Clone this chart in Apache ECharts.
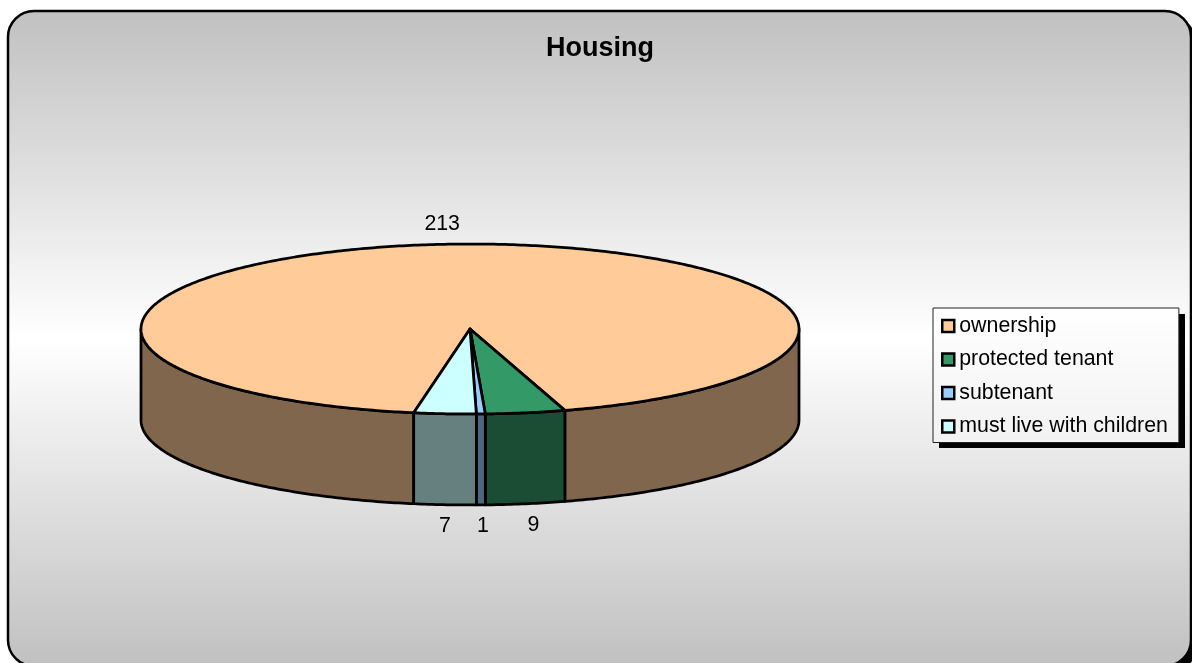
<!DOCTYPE html>
<html><head><meta charset="utf-8">
<style>html,body{margin:0;padding:0;background:#fff}#c{width:1192px;height:663px}</style>
<script src="https://cdn.jsdelivr.net/npm/echarts@6/dist/echarts.min.js"></script>
</head><body><div id="c"></div>
<script>
const categories = ['ownership', 'protected tenant', 'subtenant', 'must live with children'];
const values = [213, 9, 1, 7];
const topColors = ['#FFCC99', '#339966', '#99CCFF', '#CCFFFF'];
const sideColors = ['#80664D', '#1A4D33', '#4D6680', '#668080'];

const FONT = '"Liberation Sans", Arial, sans-serif';
const firstAngle = 9.85;           // degrees clockwise from the front of the pie
const depth = 91 / 85;             // wall height in axis units
const labelNudge = [-8, 8, 2, 0];
const total = values.reduce((a, b) => a + b, 0);

function pt(api, deg, drop) {
  const r = deg * Math.PI / 180;
  return api.coord([-Math.sin(r), -Math.cos(r) - (drop || 0)]);
}
function arc(api, a0, a1, drop) {
  const n = Math.max(2, Math.ceil(Math.abs(a1 - a0) * 1.5));
  const out = [];
  for (let i = 0; i <= n; i++) out.push(pt(api, a0 + (a1 - a0) * i / n, drop));
  return out;
}
const poly = (points, fill) => ({
  type: 'polygon', shape: { points },
  style: { fill, stroke: '#000', lineWidth: 2.75, lineJoin: 'round' }
});
function frontRanges(a0, a1) {
  const out = [];
  for (const [f0, f1] of [[-90, 90], [270, 450], [630, 810]]) {
    const s = Math.max(a0, f0), e = Math.min(a1, f1);
    if (e > s) out.push([s, e]);
  }
  return out;
}
function makeRender(idx) {
  return function (params, api) {
    const before = values.slice(0, idx).reduce((a, b) => a + b, 0);
    const a0 = firstAngle + before / total * 360;
    const a1 = a0 + api.value(2) / total * 360;
    const children = [];
    frontRanges(a0, a1).forEach(([s, e]) => {
      children.push(poly(arc(api, s, e, 0).concat(arc(api, e, s, depth)), sideColors[idx]));
    });
    const apex = api.coord([0, 0]);
    children.push(poly([apex].concat(arc(api, a0, a1, 0)), topColors[idx]));
    const mid = (a0 + a1) / 2, rad = mid * Math.PI / 180;
    const front = Math.cos(rad) > 0;
    const p = pt(api, mid, front ? depth : 0);
    children.push({
      type: 'text', z2: 10,
      style: {
        text: String(api.value(2)), x: p[0] + labelNudge[idx], y: p[1] + (front ? 21 : -20),
        textAlign: 'center', textVerticalAlign: 'middle', font: '21.33px ' + FONT, fill: '#000'
      }
    });
    return { type: 'group', children };
  };
}
const chart = echarts.init(document.getElementById('c'), null, { renderer: 'canvas' });
chart.setOption({
  animation: false,
  backgroundColor: '#fff',
  title: {
    text: 'Housing', left: 541, top: 30,
    textStyle: { fontFamily: FONT, fontSize: 27, fontWeight: 'bold', color: '#000' }
  },
  graphic: [{
    type: 'rect', z: -11, silent: true,
    shape: { x: 14, y: 17, width: 1183, height: 655, r: 26 },
    style: { fill: '#000' }
  }, {
    type: 'rect', z: -10, silent: true,
    shape: { x: 8, y: 11, width: 1183, height: 655, r: 26 },
    style: {
      stroke: '#000', lineWidth: 2.5,
      fill: new echarts.graphic.LinearGradient(0, 0, 0, 1, [
        { offset: 0, color: '#C0C0C0' }, { offset: 0.5, color: '#FFFFFF' }, { offset: 1, color: '#C0C0C0' }
      ])
    }
  }, {
    type: 'rect', z: -5, silent: true,
    shape: { x: 939, y: 314, width: 246, height: 134 },
    style: { fill: '#000' }
  }],
  legend: {
    orient: 'vertical', left: 933, top: 308, padding: [6, 11, 4, 8],
    itemWidth: 12, itemHeight: 12, itemGap: 9.5, icon: 'rect',
    backgroundColor: new echarts.graphic.LinearGradient(0, 0, 0, 1, [
      { offset: 0, color: '#FFFFFF' }, { offset: 1, color: '#F2F2F2' }
    ]),
    borderColor: '#222', borderWidth: 1, borderRadius: 0,
    itemStyle: { borderColor: '#000', borderWidth: 2.5 },
    textStyle: { fontFamily: FONT, fontSize: 21.33, color: '#000', lineHeight: 24 },
    data: categories, selectedMode: false
  },
  grid: { left: 141, right: 393, top: 244, bottom: 249 },
  xAxis: { type: 'value', min: -1, max: 1, show: false },
  yAxis: { type: 'value', min: -1, max: 1, show: false },
  series: categories.map((name, i) => ({
    type: 'custom', name, coordinateSystem: 'cartesian2d', z: 2 + i,
    clip: false, silent: true,
    itemStyle: { color: topColors[i] },
    encode: { x: 0, y: 1 },
    renderItem: makeRender(i),
    data: [[0, 0, values[i]]]
  }))
});
</script></body></html>
